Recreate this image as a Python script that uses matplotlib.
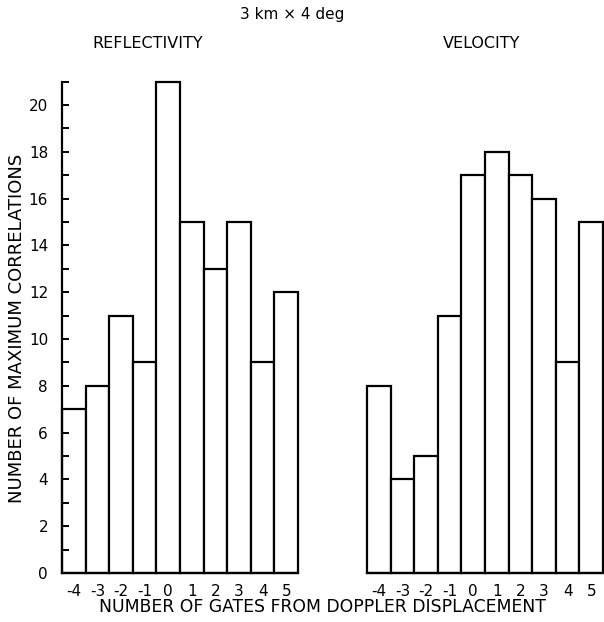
import matplotlib
matplotlib.use("Agg")
import matplotlib.pyplot as plt

gates = [-4, -3, -2, -1, 0, 1, 2, 3, 4, 5]
gate_labels = ["-4", "-3", "-2", "-1", "0", "1", "2", "3", "4", "5"]
reflectivity = [7, 8, 11, 9, 21, 15, 13, 15, 9, 12]
velocity = [8, 4, 5, 11, 17, 18, 17, 16, 9, 15]

W, H = 604, 622
fig = plt.figure(figsize=(W / 100, H / 100), dpi=100)
plt.rcParams['font.family'] = ['DejaVu Sans']

def px_axes(x0, x1, y_top, y_bot):
    return fig.add_axes([x0 / W, 1 - y_bot / H, (x1 - x0) / W, (y_bot - y_top) / H])

axL = px_axes(62, 298, 81.6, 573)
axR = px_axes(367, 603, 81.6, 573)

for ax, vals in [(axL, reflectivity), (axR, velocity)]:
    bars = ax.bar(gates, vals, width=1.0, facecolor='white', edgecolor='black',
                  linewidth=1.6, align='center')
    for b in bars:
        b.set_clip_on(False)
    ax.set_xlim(gates[0] - 0.5, gates[-1] + 0.5)
    ax.set_ylim(0, 21)
    ax.set_xticks(gates)
    ax.set_xticklabels(gate_labels, fontsize=11)
    ax.tick_params(axis='x', length=0, pad=8)
    for s in ['top', 'right', 'bottom']:
        ax.spines[s].set_visible(False)

axL.spines['left'].set_linewidth(1.6)
axL.spines['left'].set_bounds(0, 21)
axL.set_yticks(range(0, 22))
axL.set_yticklabels([str(v) if v % 2 == 0 and v <= 20 else "" for v in range(0, 22)],
                    fontsize=11)
axL.tick_params(axis='y', direction='in', length=5, width=1.4, pad=10)
axL.plot([-4.5, 5.5], [0, 0], color='black', lw=1.6, clip_on=False)
axR.plot([-4.5, 5.5], [0, 0], color='black', lw=1.6, clip_on=False)

axR.spines['left'].set_visible(False)
axR.set_yticks([])

fig.text(292 / W, 1 - 15 / H, "3 km × 4 deg", ha='center', va='center', fontsize=11)
fig.text(148 / W, 1 - 43 / H, "REFLECTIVITY", ha='center', va='center', fontsize=11.5)
fig.text(482 / W, 1 - 43 / H, "VELOCITY", ha='center', va='center', fontsize=11.5)
fig.text(17 / W, 1 - 328 / H, "NUMBER OF MAXIMUM CORRELATIONS", ha='center', va='center',
         rotation=90, fontsize=13)
fig.text(322 / W, 1 - 607 / H, "NUMBER OF GATES FROM DOPPLER DISPLACEMENT", ha='center',
         va='center', fontsize=12.4)

fig.savefig("out.png", dpi=100)
